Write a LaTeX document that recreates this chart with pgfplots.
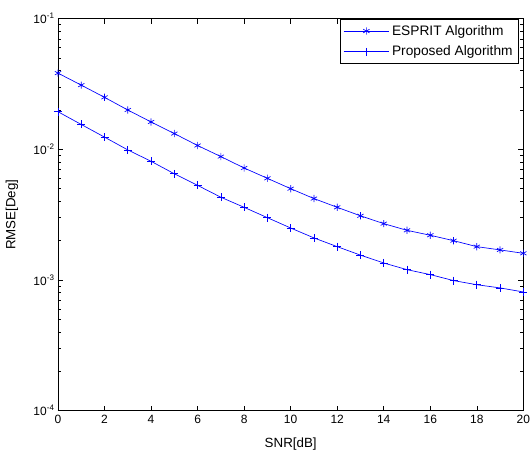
\documentclass[border=0pt]{standalone}
\usepackage{fontspec}
\setmainfont{Liberation Sans}
\usepackage{pgfplots}
\pgfplotsset{compat=1.18}

\pgfplotstableread{
snr esprit proposed
0  0.0383 0.0194
1  0.0310 0.0155
2  0.0250 0.0124
3  0.0200 0.0099
4  0.0162 0.0081
5  0.0132 0.0065
6  0.0107 0.0053
7  0.0088 0.0043
8  0.0072 0.0036
9  0.0060 0.0030
10 0.0050 0.0025
11 0.0042 0.0021
12 0.0036 0.0018
13 0.0031 0.00155
14 0.0027 0.00135
15 0.0024 0.00120
16 0.0022 0.00110
17 0.0020 0.00099
18 0.0018 0.00092
19 0.0017 0.00087
20 0.0016 0.00081
}\rmse

\pgfplotsset{
  legend image code/.code={%
    \draw[mark repeat=2,mark phase=2,#1] plot coordinates {(0pt,0pt) (17pt,0pt) (34pt,0pt)};},
}

\begin{document}
\begin{tikzpicture}
\begin{axis}[
    name=ax,
    scale only axis,
    width=349pt, height=294pt,
    ymode=log,
    xmin=0, xmax=20, ymin=1e-4, ymax=1e-1,
    xtick={0,2,...,20},
    ytick={1e-4,1e-3,1e-2,1e-1},
    yticklabels={10\textsuperscript{-4},10\textsuperscript{-3},10\textsuperscript{-2},10\textsuperscript{-1}},
    /pgf/number format/assume math mode=true,
    tick align=inside,
    tick pos=both,
    major tick length=3.7pt,
    minor tick length=2.5pt,
    axis line style={line width=0.6pt},
    every tick/.style={black, line width=0.45pt},
    tick label style={font=\fontsize{9}{10.8}\selectfont},
    yticklabel style={xshift=1pt},
    label style={font=\fontsize{10.3}{12.4}\selectfont},
    xlabel={SNR[dB]},
    ylabel={RMSE[Deg]},
    every axis x label/.style={at={(axis description cs:0.5,0)}, anchor=center, yshift=-25pt},
    every axis y label/.style={at={(axis description cs:0,0.5)}, xshift=-34.5pt, rotate=90, anchor=center},
    legend style={at={(1,1)}, anchor=north east, xshift=-3.7pt, draw=black, line width=0.6pt,
        font=\fontsize{10.3}{12.4}\selectfont, row sep=2.6pt, inner xsep=2pt, inner ysep=2.5pt},
    legend cell align=left,
    ]
\addplot[blue, line width=0.5pt, mark=asterisk, mark size=2.7pt] table[x=snr, y=esprit] {\rmse};
\addplot[blue, line width=0.5pt, mark=+, mark size=3pt] table[x=snr, y=proposed] {\rmse};
\legend{ESPRIT Algorithm, Proposed Algorithm}
\end{axis}
\pgfresetboundingbox
\path ([shift={(-43.5pt,-32pt)}]ax.south west) rectangle ([shift={(6.5pt,14pt)}]ax.north east);
\end{tikzpicture}
\end{document}
